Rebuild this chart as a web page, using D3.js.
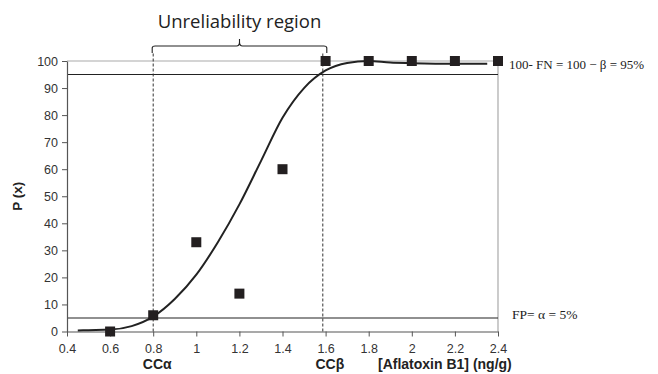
<!DOCTYPE html>
<html>
<head>
<meta charset="utf-8">
<script src="https://cdn.jsdelivr.net/npm/d3@7"></script>
<style>
  body { margin: 0; background: #fff; }
  svg text { font-family: "Liberation Sans", Arial, sans-serif; }
</style>
</head>
<body>
<svg id="chart" width="658" height="374"></svg>
<script>
/* data */
var concX = [0.6, 0.8, 1.0, 1.2, 1.4, 1.6, 1.8, 2.0, 2.2, 2.4];
var probY = [0, 6, 33, 14, 60, 100, 100, 100, 100, 100];

// fitted curve, sampled by eye
var curveX = [0.45, 0.5, 0.6, 0.7, 0.8, 0.9, 1.0, 1.1, 1.2, 1.3, 1.4, 1.5, 1.6, 1.7, 1.8, 1.9, 2.0, 2.2, 2.35];
var curveY = [0.4, 0.5, 0.7, 2, 5.5, 12, 21, 33, 47, 63, 79, 90, 96.5, 99.3, 100, 99.4, 99.2, 99, 99];

var xTicks = [0.4, 0.6, 0.8, 1, 1.2, 1.4, 1.6, 1.8, 2, 2.2, 2.4];
var yTicks = [0, 10, 20, 30, 40, 50, 60, 70, 80, 90, 100];
var limitLines = [5, 95];
var ccAlpha = 0.8, ccBeta = 1.587;

/* scales */
var x = d3.scaleLinear().domain([0.4, 2.4]).range([67, 498]);
var y = d3.scaleLinear().domain([0, 100]).range([331.5, 61]);

var svg = d3.select("svg#chart");

// top and right frame (gray)
svg.append("path")
  .attr("d", `M${x(0.4)},${y(100)}H${x(2.4)}V${y(0)}`)
  .attr("fill", "none")
  .attr("stroke", "#aaa")
  .attr("stroke-width", 1.2);

// horizontal 5% / 95% lines
svg.selectAll("line.limit")
  .data(limitLines)
  .enter()
  .append("line")
  .attr("class", "limit")
  .attr("x1", x(0.4)).attr("x2", x(2.4))
  .attr("y1", d => y(d)).attr("y2", d => y(d))
  .attr("stroke", "#222")
  .attr("stroke-width", 1.1);

// dashed CC lines
svg.selectAll("line.cc")
  .data([ccAlpha, ccBeta])
  .enter()
  .append("line")
  .attr("class", "cc")
  .attr("x1", d => x(d)).attr("x2", d => x(d))
  .attr("y1", y(0)).attr("y2", y(100) - 8)
  .attr("stroke", "#333")
  .attr("stroke-width", 1)
  .attr("stroke-dasharray", "3,2");

/* axes */
var xAxis = svg.append("g")
  .attr("transform", `translate(0,${y(0)})`)
  .call(d3.axisBottom(x).tickValues(xTicks).tickFormat(d3.format("")).tickSize(5).tickSizeOuter(0));
var yAxis = svg.append("g")
  .attr("transform", `translate(${x(0.4)},0)`)
  .call(d3.axisLeft(y).tickValues(yTicks).tickSize(5).tickSizeOuter(0));

[xAxis, yAxis].forEach(g => {
  g.select(".domain").attr("stroke", "#555").attr("stroke-width", 1.2);
  g.selectAll(".tick line").attr("stroke", "#555");
  g.selectAll(".tick text")
    .attr("fill", "#333")
    .style("font-size", "12.5px")
    .style("font-family", "Liberation Sans, Arial, sans-serif");
});
xAxis.selectAll(".tick text").attr("dy", "1.05em");
yAxis.selectAll(".tick text").attr("x", -9);

/* curve */
var line = d3.line()
  .x((d, i) => x(curveX[i]))
  .y(d => y(d))
  .curve(d3.curveMonotoneX);

svg.append("path")
  .datum(curveY)
  .attr("d", line)
  .attr("fill", "none")
  .attr("stroke", "#222")
  .attr("stroke-width", 2);

/* points */
svg.selectAll("rect.pt")
  .data(probY)
  .enter()
  .append("rect")
  .attr("class", "pt")
  .attr("x", (d, i) => x(concX[i]) - 5)
  .attr("y", d => y(d) - 5)
  .attr("width", 10)
  .attr("height", 10)
  .attr("fill", "#231f20");

/* labels */
svg.append("text")
  .attr("transform", `translate(22,${y(50)}) rotate(-90)`)
  .attr("text-anchor", "middle")
  .style("font-size", "13.5px")
  .style("font-weight", "bold")
  .attr("fill", "#222")
  .text("P (x)");

svg.append("text")
  .attr("x", x(ccAlpha) + 4).attr("y", 369)
  .attr("text-anchor", "middle")
  .style("font-size", "14px").style("font-weight", "bold").attr("fill", "#222")
  .text("CCα");
svg.append("text")
  .attr("x", x(ccBeta) + 7).attr("y", 369)
  .attr("text-anchor", "middle")
  .style("font-size", "14px").style("font-weight", "bold").attr("fill", "#222")
  .text("CCβ");
svg.append("text")
  .attr("x", 378).attr("y", 369)
  .style("font-size", "14px").style("font-weight", "bold").attr("fill", "#222")
  .text("[Aflatoxin B1] (ng/g)");

// right annotations
svg.append("text")
  .attr("x", 509).attr("y", 69)
  .style("font-family", "Liberation Serif, Times New Roman, serif")
  .style("font-size", "13px").attr("fill", "#222")
  .text("100- FN = 100 − β = 95%");
svg.append("text")
  .attr("x", 512).attr("y", 319)
  .style("font-family", "Liberation Serif, Times New Roman, serif")
  .style("font-size", "13.5px").attr("fill", "#222")
  .text("FP= α = 5%");

// brace + title
var bx1 = x(ccAlpha) - 1, bx2 = x(ccBeta) + 4, bm = (bx1 + bx2) / 2;
svg.append("path")
  .attr("d", `M${bx1},53 V48 Q${bx1},46 ${bx1 + 3},46 H${bm - 3} Q${bm},46 ${bm},42 V39 M${bm},42 Q${bm},46 ${bm + 3},46 H${bx2 - 3} Q${bx2},46 ${bx2},48 V53`)
  .attr("fill", "none")
  .attr("stroke", "#222")
  .attr("stroke-width", 1.1);

svg.append("text")
  .attr("x", bm).attr("y", 28)
  .attr("text-anchor", "middle")
  .style("font-family", "Open Sans, Liberation Sans, sans-serif")
  .style("font-size", "18.5px").attr("fill", "#222")
  .text("Unreliability region");
</script>
</body>
</html>
